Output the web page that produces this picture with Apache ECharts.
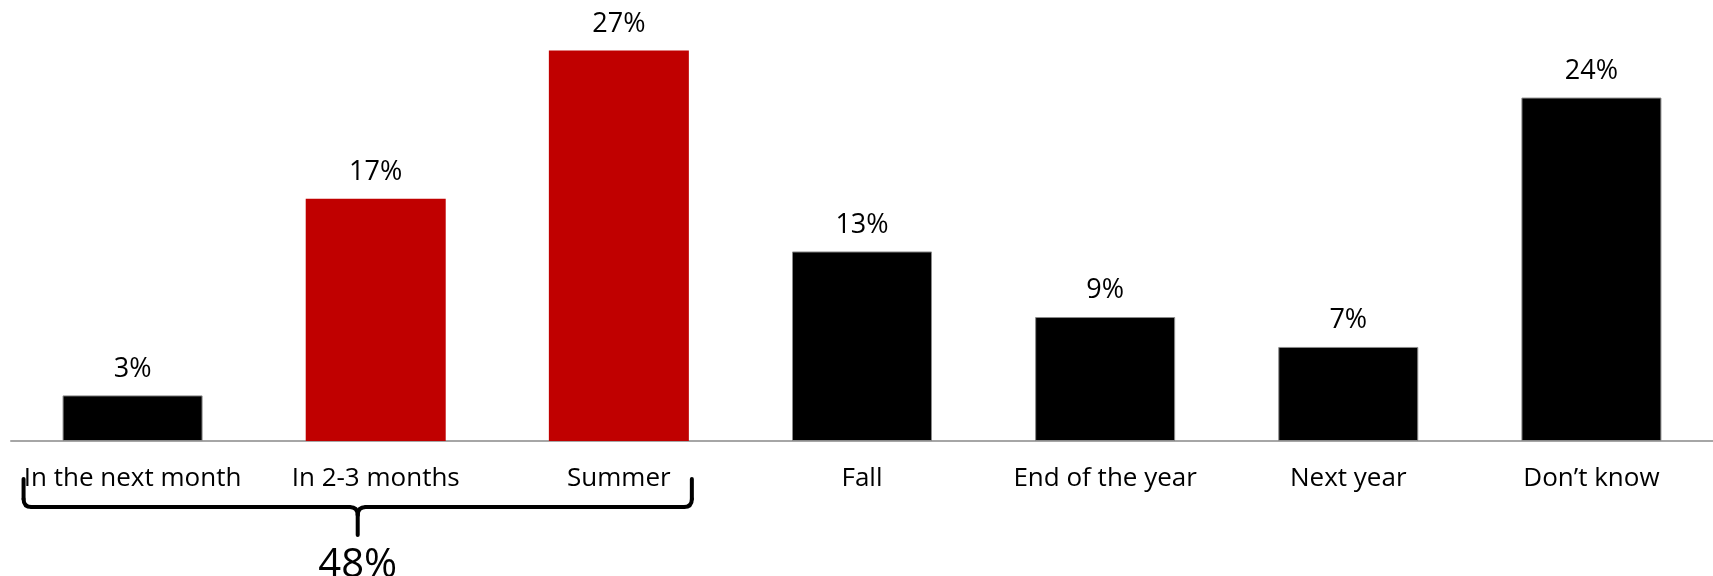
<!DOCTYPE html>
<html>
<head>
<meta charset="utf-8">
<script src="https://cdn.jsdelivr.net/npm/echarts@6/dist/echarts.min.js"></script>
<style>
html, body { margin: 0; padding: 0; background: #fff; }
#chart { width: 1713px; height: 576px; }
</style>
</head>
<body>
<div id="chart"></div>
<script>
// data
var categories = ['In the next month', 'In 2-3 months', 'Summer', 'Fall', 'End of the year', 'Next year', 'Don\u2019t know'];
var values = [3.2, 17.0, 27.4, 13.3, 8.7, 6.6, 24.1];
var highlighted = [false, true, true, false, false, false, false];
var groupedCount = 3; // first three answers are bracketed together

var FONT = '"Open Sans", "Noto Sans", sans-serif';

var mychart = echarts.init(document.getElementById('chart'));

var barData = values.map(function (v, i) {
  return {
    value: v,
    itemStyle: highlighted[i]
      ? { color: '#C00000', borderWidth: 0 }
      : { color: '#000000', borderColor: '#8a8a8a', borderWidth: 1 }
  };
});

mychart.setOption({
  animation: false,
  grid: { left: 11, width: 1705, top: 13.5, bottom: 135, containLabel: false },
  xAxis: {
    type: 'category',
    data: categories,
    axisLine: { show: true, lineStyle: { color: '#a6a6a6', width: 2 } },
    axisTick: { show: false },
    axisLabel: {
      interval: 0,
      margin: 25,
      color: '#000',
      fontFamily: FONT,
      fontSize: 26
    }
  },
  yAxis: {
    type: 'value',
    min: 0,
    max: 30,
    show: false,
    splitLine: { show: false }
  },
  series: [{
    type: 'bar',
    data: barData,
    barWidth: 140,
    label: {
      show: true,
      position: 'top',
      distance: 13,
      color: '#000',
      fontFamily: FONT,
      fontSize: 27,
      formatter: function (p) { return Math.round(p.value) + '%'; }
    }
  }]
});

// bracket under the first group of categories
var c0 = mychart.convertToPixel({ xAxisIndex: 0 }, 0);
var c2 = mychart.convertToPixel({ xAxisIndex: 0 }, groupedCount - 1);
var axisY = mychart.convertToPixel({ yAxisIndex: 0 }, 0);
var L = c0 - 109, R = c2 + 73, M = (L + R) / 2;
var yTop = axisY + 38, yMid = axisY + 66, yTip = axisY + 94, r = 8;

var lineStyle = { stroke: '#000', lineWidth: 4, fill: null, lineCap: 'round', lineJoin: 'round' };
function seg(points) {
  return { type: 'polyline', shape: { points: points }, style: lineStyle };
}
function corner(x1, y1, cx, cy, x2, y2) {
  return { type: 'bezierCurve', shape: { x1: x1, y1: y1, cpx1: cx, cpy1: cy, x2: x2, y2: y2 }, style: lineStyle };
}

var groupTotal = 0;
for (var i = 0; i < groupedCount; i++) groupTotal += values[i];

mychart.setOption({
  graphic: [
    seg([[L, yTop], [L, yMid - r]]),
    corner(L, yMid - r, L, yMid, L + r, yMid),
    seg([[L + r, yMid], [M - r, yMid]]),
    corner(M - r, yMid, M, yMid, M, yMid + r),
    seg([[M, yMid + r], [M, yTip]]),
    corner(M + r, yMid, M, yMid, M, yMid + r),
    seg([[M + r, yMid], [R - r, yMid]]),
    corner(R - r, yMid, R, yMid, R, yMid - r),
    seg([[R, yMid - r], [R, yTop]]),
    {
      type: 'text',
      x: M,
      y: axisY + 105,
      style: {
        text: Math.round(groupTotal) + '%',
        fill: '#000',
        font: '40px ' + FONT,
        textAlign: 'center',
        textVerticalAlign: 'top'
      }
    }
  ]
});
</script>
</body>
</html>
